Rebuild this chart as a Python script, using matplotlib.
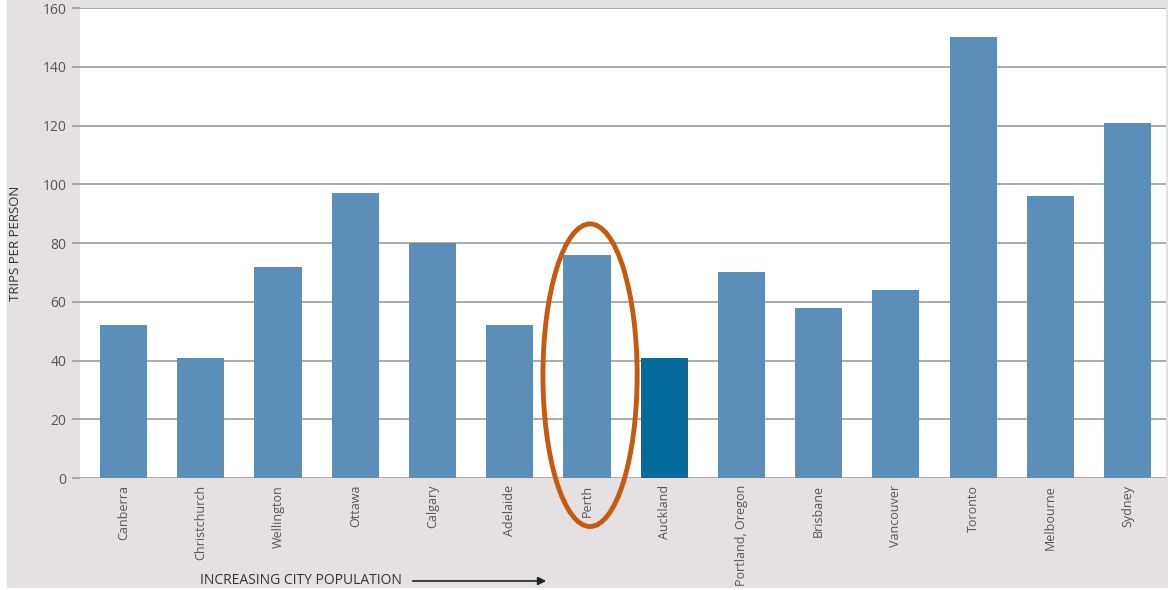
import matplotlib.pyplot as plt
from matplotlib.patches import Ellipse, Rectangle

cities = ["Canberra", "Christchurch", "Wellington", "Ottawa", "Calgary",
          "Adelaide", "Perth", "Auckland", "Portland, Oregon", "Brisbane",
          "Vancouver", "Toronto", "Melbourne", "Sydney"]
trips = [52, 41, 72, 97, 80, 52, 76, 41, 70, 58, 64, 150, 96, 121]
highlight = "Auckland"
circled = "Perth"
yticks = [0, 20, 40, 60, 80, 100, 120, 140, 160]

plt.rcParams['font.family'] = ['Open Sans', 'DejaVu Sans']

bg = '#e5e0e2'
bar_col = '#5b8fb9'
dark_col = '#046b9c'
grid_col = '#9c9c9c'
text_col = '#555555'

fig = plt.figure(figsize=(11.68, 5.9), dpi=100)
fig.patch.set_facecolor(bg)
ax = fig.add_axes([0.0688, 0.1898, 0.9296, 0.7966])
ax.set_facecolor('white')

colors = [dark_col if c == highlight else bar_col for c in cities]
x = range(len(cities))
ax.bar(x, trips, width=0.61, color=colors, zorder=3)

ax.set_xlim(-0.56, 13.5)
ax.set_ylim(0, 160)
ax.set_yticks(yticks)
ax.yaxis.grid(True, color=grid_col, linewidth=1.2, zorder=0)
for s in ax.spines.values():
    s.set_visible(False)
ax.tick_params(axis='y', length=6, color=grid_col, width=1.2,
               labelsize=10, labelcolor=text_col, pad=4)
ax.set_xticks(list(x))
ax.set_xticklabels(cities, rotation=90, fontsize=9, color=text_col)
ax.tick_params(axis='x', length=0, pad=5)

ax.set_ylabel("TRIPS PER PERSON", fontsize=9.5, color='#333333')
ax.yaxis.set_label_coords(-0.054, 0.50)

# ring around the circled city
ci = cities.index(circled)
ring = Ellipse((ci + 0.04, 35), width=1.22, height=103, fill=False,
               edgecolor='#c55a11', linewidth=3.5, zorder=5, clip_on=False)
ax.add_patch(ring)

fig.text(0.171, 0.0153, "INCREASING CITY POPULATION", fontsize=10,
         color='#333333', va='center')
fig.add_artist(plt.Annotation("", xy=(0.470, 0.0153), xytext=(0.351, 0.0153),
                              xycoords='figure fraction',
                              arrowprops=dict(arrowstyle='-|>', color='#222222',
                                              lw=1.2, mutation_scale=12)))

# thin white margin on the left and bottom edges
fig.add_artist(Rectangle((0, 0), 0.006, 1, transform=fig.transFigure,
                         facecolor='white', edgecolor='none'))
fig.add_artist(Rectangle((0, 0), 1, 0.004, transform=fig.transFigure,
                         facecolor='white', edgecolor='none'))

fig.savefig("out.png", dpi=100, facecolor=bg)
